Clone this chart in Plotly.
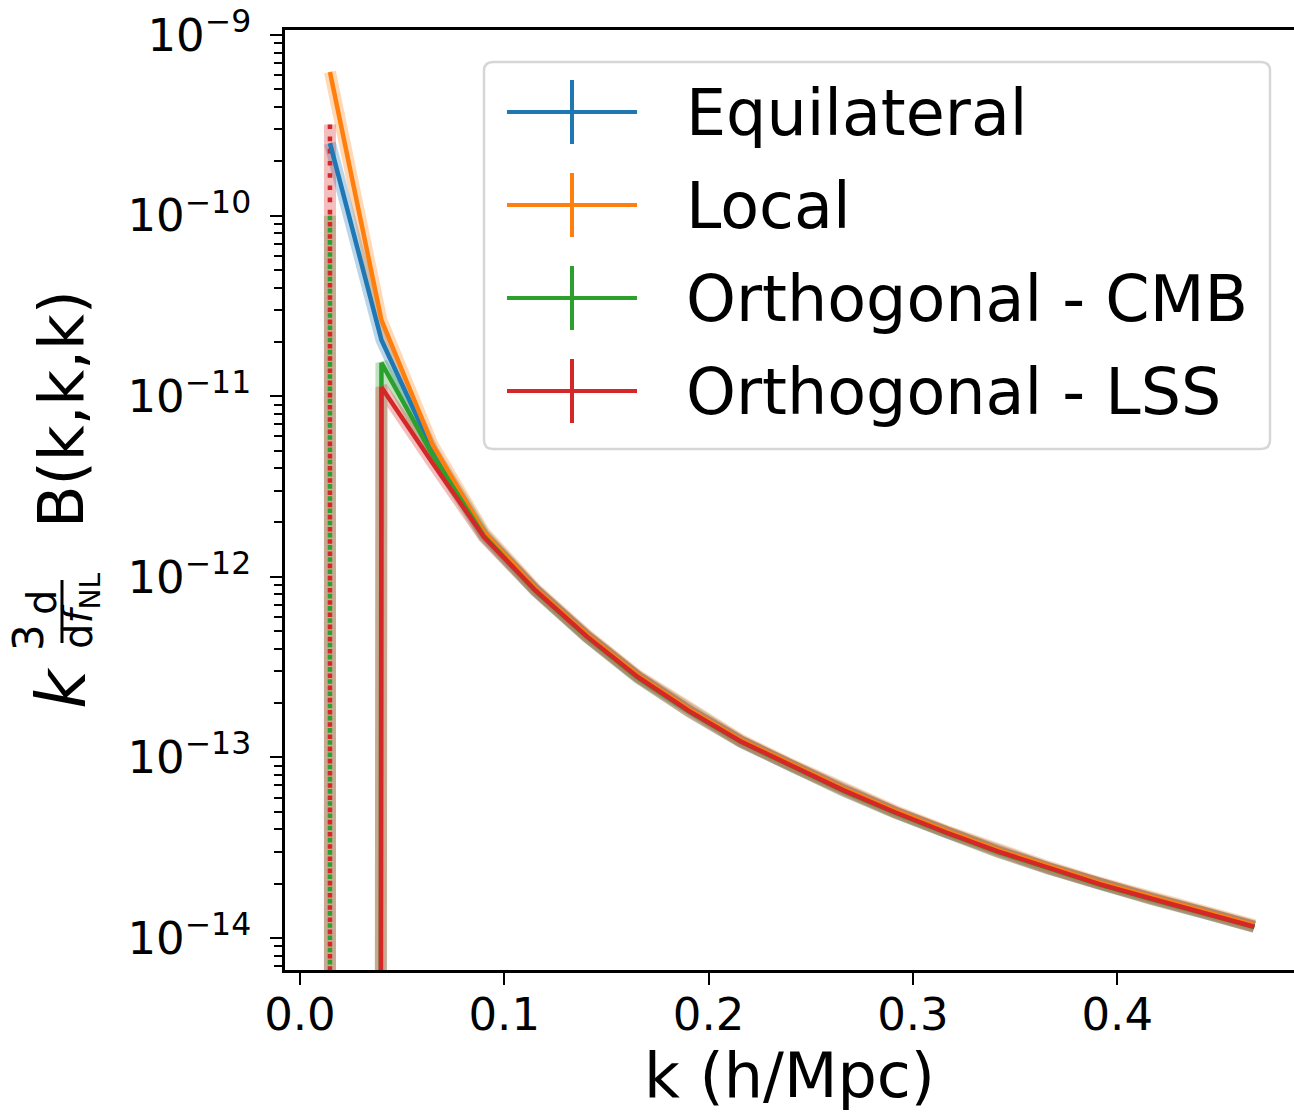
import plotly.graph_objects as go

# ---------------- data ----------------
k = [0.0147, 0.0399, 0.0650, 0.0901, 0.1153, 0.1404, 0.1655, 0.1907, 0.2158, 0.2409,
     0.2661, 0.2912, 0.3163, 0.3415, 0.3666, 0.3917, 0.4169, 0.4420, 0.4671]

equilateral = [2.52e-10, 2.05e-11, 5.0e-12, 1.72e-12, 8.45e-13, 4.70e-13, 2.79e-13, 1.81e-13,
               1.23e-13, 8.96e-14, 6.60e-14, 4.99e-14, 3.86e-14, 3.03e-14, 2.44e-14, 1.99e-14,
               1.66e-14, 1.39e-14, 1.16e-14]
local = [6.24e-10, 2.64e-11, 5.37e-12, 1.77e-12, 8.60e-13, 4.78e-13, 2.84e-13, 1.84e-13,
         1.25e-13, 9.10e-14, 6.70e-14, 5.07e-14, 3.92e-14, 3.08e-14, 2.48e-14, 2.02e-14,
         1.69e-14, 1.41e-14, 1.18e-14]
ortho_cmb = [-2.0e-11, 1.53e-11, 4.72e-12, 1.68e-12, 8.35e-13, 4.65e-13, 2.76e-13, 1.79e-13,
             1.22e-13, 8.87e-14, 6.53e-14, 4.94e-14, 3.82e-14, 3.00e-14, 2.42e-14, 1.97e-14,
             1.64e-14, 1.38e-14, 1.15e-14]
ortho_lss = [-3.0e-11, 1.12e-11, 4.26e-12, 1.66e-12, 8.40e-13, 4.68e-13, 2.78e-13, 1.80e-13,
             1.225e-13, 8.92e-14, 6.57e-14, 4.97e-14, 3.84e-14, 3.02e-14, 2.43e-14, 1.98e-14,
             1.65e-14, 1.385e-14, 1.155e-14]

equilateral_err = [0.0] * 19
local_err = [0.0] * 19
ortho_cmb_err = [1.2e-10] + [0.0] * 18
ortho_lss_err = [3.5e-10] + [0.0] * 18

names = ["Equilateral", "Local", "Orthogonal - CMB", "Orthogonal - LSS"]
x_ticks = [0.0, 0.1, 0.2, 0.3, 0.4]
y_decades = [-14, -13, -12, -11, -10, -9]

# ---------------- style ----------------
colors = ["#1f77b4", "#ff7f0e", "#2ca02c", "#d62728"]
glows = ["rgba(31,119,180,0.3)", "rgba(255,127,14,0.3)", "rgba(44,160,44,0.3)", "rgba(214,39,40,0.3)"]
FONT = "DejaVu Sans"
W, H = 1294, 1112
L, R, T, B = 285, 0, 30, 142
PW, PH = W - L - R, H - T - B
TINY = 1e-300  # matplotlib-like clipping of non-positive values on log axis


def clip(v):
    return v if v > 0 else TINY


def px_x(px):
    return (px - L) / PW


def px_y(py):
    return (T + PH - py) / PH


series = [(equilateral, equilateral_err), (local, local_err),
          (ortho_cmb, ortho_cmb_err), (ortho_lss, ortho_lss_err)]

fig = go.Figure()

# glow lines
for (vals, errs), gc in zip(series, glows):
    fig.add_trace(go.Scatter(x=k, y=[clip(v) for v in vals], mode="lines",
                             line=dict(color=gc, width=12), showlegend=False, hoverinfo="skip"))
    ex, ey = [], []
    for xi, v, e in zip(k, vals, errs):
        if e > 0:
            ex += [xi, xi, None]
            ey += [v + e, clip(v - e), None]
    if ex:
        fig.add_trace(go.Scatter(x=ex, y=ey, mode="lines", line=dict(color=gc, width=12),
                                 showlegend=False, hoverinfo="skip"))

# error bars (dotted)
for (vals, errs), c in zip(series, colors):
    ex, ey = [], []
    for xi, v, e in zip(k, vals, errs):
        if e > 0:
            ex += [xi, xi, None]
            ey += [v + e, clip(v - e), None]
    if ex:
        fig.add_trace(go.Scatter(x=ex, y=ey, mode="lines",
                                 line=dict(color=c, width=4.5, dash="4.6px,7.6px"),
                                 showlegend=False, hoverinfo="skip"))

# main lines
for (vals, errs), c, n in zip(series, colors, names):
    fig.add_trace(go.Scatter(x=k, y=[clip(v) for v in vals], mode="lines", name=n,
                             line=dict(color=c, width=4.5), showlegend=False))

# ---------------- custom legend ----------------
shapes = []
annotations = []
bx0, bx1, by0, by1, rad = 484, 1270, 62, 449, 9
rx, ry = rad / PW, rad / PH
X0, X1, Y0, Y1 = px_x(bx0), px_x(bx1), px_y(by1), px_y(by0)
path = (f"M {X0+rx},{Y1} L {X1-rx},{Y1} Q {X1},{Y1} {X1},{Y1-ry} L {X1},{Y0+ry} "
        f"Q {X1},{Y0} {X1-rx},{Y0} L {X0+rx},{Y0} Q {X0},{Y0} {X0},{Y0+ry} "
        f"L {X0},{Y1-ry} Q {X0},{Y1} {X0+rx},{Y1} Z")
shapes.append(dict(type="path", xref="paper", yref="paper", path=path,
                   line=dict(color="rgba(204,204,204,0.8)", width=2.5),
                   fillcolor="rgba(255,255,255,0.8)", layer="above"))
for i, (n, c) in enumerate(zip(names, colors)):
    yc = 112 + 93 * i
    shapes.append(dict(type="line", xref="paper", yref="paper",
                       x0=px_x(507), x1=px_x(637), y0=px_y(yc), y1=px_y(yc),
                       line=dict(color=c, width=4), layer="above"))
    shapes.append(dict(type="line", xref="paper", yref="paper",
                       x0=px_x(572), x1=px_x(572), y0=px_y(yc - 32), y1=px_y(yc + 32),
                       line=dict(color=c, width=4), layer="above"))
    annotations.append(dict(text=n, xref="paper", yref="paper", x=px_x(684), y=px_y(yc + 1),
                            xanchor="left", yanchor="middle", showarrow=False,
                            font=dict(family=FONT, size=63.5, color="black")))

# ---------------- y-axis title (pieces) ----------------
big = 62
annotations.append(dict(text="B(k,k,k)", xref="paper", yref="paper", x=px_x(61), y=px_y(409),
                        xanchor="center", yanchor="middle", textangle=-90, showarrow=False,
                        font=dict(family=FONT, size=big, color="black")))
annotations.append(dict(text="<i>k</i>", xref="paper", yref="paper", x=px_x(61), y=px_y(688),
                        xanchor="center", yanchor="middle", textangle=-90, showarrow=False,
                        font=dict(family=FONT, size=68, color="black")))
annotations.append(dict(text="3", xref="paper", yref="paper", x=px_x(28), y=px_y(638),
                        xanchor="center", yanchor="middle", textangle=-90, showarrow=False,
                        font=dict(family=FONT, size=42, color="black")))
annotations.append(dict(text="d", xref="paper", yref="paper", x=px_x(42), y=px_y(603),
                        xanchor="center", yanchor="middle", textangle=-90, showarrow=False,
                        font=dict(family=FONT, size=40, color="black")))
annotations.append(dict(text="d<i>f</i><sub>NL</sub>", xref="paper", yref="paper", x=px_x(81), y=px_y(611),
                        xanchor="center", yanchor="middle", textangle=-90, showarrow=False,
                        font=dict(family=FONT, size=40, color="black")))
shapes.append(dict(type="line", xref="paper", yref="paper", x0=px_x(62), x1=px_x(62),
                   y0=px_y(580), y1=px_y(643), line=dict(color="black", width=3)))

minor_vals = [m * 10.0 ** e for e in range(-15, -8) for m in range(2, 10)]

fig.update_layout(
    width=W, height=H, margin=dict(l=L, r=R, t=T, b=B, pad=0),
    paper_bgcolor="white", plot_bgcolor="white",
    font=dict(family=FONT, color="black"),
    shapes=shapes, annotations=annotations, showlegend=False,
    xaxis=dict(range=[-0.0073, 0.4865], tickvals=x_ticks, ticktext=[f"{v:.1f}" for v in x_ticks],
               ticks="outside", ticklen=12, tickwidth=2.2, tickcolor="black",
               showline=True, linewidth=2.6, linecolor="black", mirror=True,
               showgrid=False, zeroline=False, tickfont=dict(size=45, family=FONT),
               ticklabelstandoff=-9,
               title=dict(text="k (h/Mpc)", font=dict(size=62, family=FONT), standoff=10)),
    yaxis=dict(type="log", range=[-14.177, -8.972],
               tickvals=[10.0 ** d for d in y_decades],
               ticktext=[f"10<sup>\u2212{-d}</sup>" for d in y_decades],
               ticks="outside", ticklen=12, tickwidth=2.2, tickcolor="black",
               minor=dict(tickvals=minor_vals, ticks="outside", ticklen=8, tickwidth=1.8, tickcolor="black"),
               showline=True, linewidth=2.6, linecolor="black", mirror=False,
               showgrid=False, zeroline=False, tickfont=dict(size=45, family=FONT),
               ticklabelstandoff=10),
)

fig.write_html("out.html")
